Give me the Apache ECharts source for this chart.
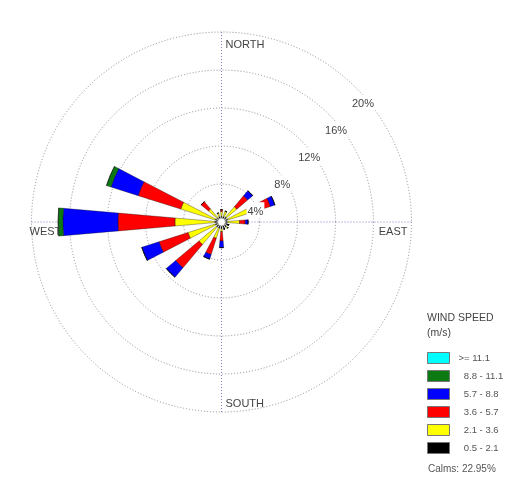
<!DOCTYPE html>
<html>
<head>
<meta charset="utf-8">
<script src="https://cdn.jsdelivr.net/npm/echarts@6/dist/echarts.min.js"></script>
<style>
  html, body { margin: 0; padding: 0; background: #fff; }
  #chart { width: 516px; height: 487px; }
</style>
</head>
<body>
<div id="chart"></div>
<script>
// Sixteen compass sectors, clockwise from north
const directions = ['N', 'NNE', 'NE', 'ENE', 'E', 'ESE', 'SE', 'SSE',
                    'S', 'SSW', 'SW', 'WSW', 'W', 'WNW', 'NW', 'NNW'];

// Wind speed classes (m/s), from calmest to strongest
const speedClasses = ['0.5 - 2.1', '2.1 - 3.6', '3.6 - 5.7', '5.7 - 8.8', '8.8 - 11.1', '>= 11.1'];
const classColors  = ['#000000', '#ffff00', '#ff0000', '#0000ff', '#0b7a12', '#00ffff'];

// Frequency of occurrence (%) per direction for each speed class
const freq05to21  = [0.6, 0.6, 0.7, 0.7, 0.6, 0.8, 0.7, 0.8, 0.7, 0.7, 0.7, 0.7, 0.7, 0.7, 0.6, 0.6];
const freq21to36  = [0.5, 0.6, 1.4, 2.5, 1.3, 0.0, 0.2, 0.0, 0.3, 1.1, 2.4, 3.0, 4.2, 3.8, 1.2, 0.4];
const freq36to57  = [0.2, 0.0, 1.5, 2.2, 0.6, 0.0, 0.0, 0.0, 1.0, 1.8, 3.2, 3.2, 6.0, 4.7, 1.0, 0.0];
const freq57to88  = [0.0, 0.0, 0.7, 0.5, 0.3, 0.0, 0.0, 0.0, 0.7, 0.5, 1.3, 1.9, 5.8, 3.0, 0.0, 0.0];
const freq88to111 = [0.0, 0.0, 0.0, 0.0, 0.0, 0.0, 0.0, 0.0, 0.0, 0.0, 0.0, 0.0, 0.5, 0.5, 0.0, 0.0];
const freqAbove111 = [0.0, 0.0, 0.0, 0.0, 0.0, 0.0, 0.0, 0.0, 0.0, 0.0, 0.0, 0.0, 0.0, 0.0, 0.0, 0.0];
const classFreqs = [freq05to21, freq21to36, freq36to57, freq57to88, freq88to111, freqAbove111];

// Ring scale (%) and compass captions
const ringStep = 4;
const ringMax = 20;
const compassNames = ['NORTH', 'EAST', 'SOUTH', 'WEST'];
const calmsPct = 22.95;

const FONT = 'Liberation Sans, Arial, sans-serif';
const CX = 221.5, CY = 222, R = 190;
const center = [CX, CY];

const chart = echarts.init(document.getElementById('chart'), null, { renderer: 'canvas' });

const hiddenAxis = { axisLine: { show: false }, axisTick: { show: false },
                     axisLabel: { show: false }, splitLine: { show: false } };

const series = speedClasses.map((name, i) => ({
  name: name,
  type: 'bar',
  coordinateSystem: 'polar',
  polarIndex: 0,
  stack: 'wind',
  barCategoryGap: '56%',
  data: classFreqs[i],
  itemStyle: { color: classColors[i], borderColor: 'rgba(0,0,0,0.55)', borderWidth: 0.6 },
  emphasis: { disabled: true },
  animation: false
}));

// Compass captions sit just inside the outer ring, beside the cross lines
const compassText = [
  { text: compassNames[0], x: CX + 4,     y: CY - R + 13, align: 'left' },
  { text: compassNames[1], x: CX + R - 4, y: CY + 10,     align: 'right' },
  { text: compassNames[2], x: CX + 4,     y: CY + R - 8,  align: 'left' },
  { text: compassNames[3], x: CX - R - 2, y: CY + 10,     align: 'left' }
].map(t => ({
  type: 'text', x: t.x, y: t.y, z: 20,
  style: { text: t.text, fontSize: 11, fontFamily: FONT, fill: '#444',
           align: t.align, verticalAlign: 'middle' }
}));

const option = {
  backgroundColor: '#ffffff',
  animation: false,
  polar: [
    { center: center, radius: R },   // bars
    { center: center, radius: R },   // rings and cross lines
    { center: center, radius: R }    // ring labels
  ],
  angleAxis: [
    Object.assign({ polarIndex: 0, type: 'category', data: directions,
                    startAngle: 90 + 360 / directions.length / 2, clockwise: true,
                    boundaryGap: true }, hiddenAxis),
    { polarIndex: 1, type: 'value', min: 0, max: 360, interval: 90, startAngle: 90,
      axisLine: { show: false }, axisTick: { show: false }, axisLabel: { show: false },
      splitLine: { show: true, lineStyle: { color: '#7c7cc4', type: [1, 2], width: 1 } } },
    Object.assign({ polarIndex: 2, type: 'value', min: 0, max: 360, startAngle: 45 }, hiddenAxis)
  ],
  radiusAxis: [
    Object.assign({ polarIndex: 0, type: 'value', min: 0, max: ringMax }, hiddenAxis),
    { polarIndex: 1, type: 'value', min: 0, max: ringMax, interval: ringStep,
      axisLine: { show: false }, axisTick: { show: false }, axisLabel: { show: false },
      splitLine: { show: true, lineStyle: { color: '#8c8c9c', type: [1, 2], width: 1 } } },
    { polarIndex: 2, type: 'value', min: 0, max: ringMax, interval: ringStep, z: 10,
      axisLine: { show: false }, axisTick: { show: false }, splitLine: { show: false },
      axisLabel: { show: true, margin: -10, align: 'center', verticalAlign: 'top',
                   padding: [4, 1, 1, 1],
                   color: '#444', fontSize: 11, fontFamily: FONT,
                   backgroundColor: '#fff',
                   formatter: v => (v === 0 ? '' : v + '%') } }
  ],
  title: [
    { text: 'WIND SPEED\n(m/s)', left: 427, top: 311, padding: 0,
      textStyle: { fontSize: 10.5, fontWeight: 'normal', color: '#444', fontFamily: FONT, lineHeight: 15 } },
    { text: 'Calms: ' + calmsPct.toFixed(2) + '%', left: 428, top: 464, padding: 0,
      textStyle: { fontSize: 10, fontWeight: 'normal', color: '#555', fontFamily: FONT } }
  ],
  legend: {
    data: speedClasses.slice().reverse(),
    orient: 'vertical', left: 427, top: 352, padding: 0,
    itemWidth: 22, itemHeight: 11, itemGap: 6, icon: 'rect',
    selectedMode: false,
    itemStyle: { borderColor: '#777', borderWidth: 1 },
    formatter: n => (n.indexOf('>=') === 0 ? n : '  ' + n),
    textStyle: { fontSize: 9.5, color: '#555', fontFamily: FONT, padding: [0, 0, 0, 4] }
  },
  graphic: compassText.concat([
    { type: 'circle', shape: { cx: CX, cy: CY, r: 4 }, z: 30,
      style: { fill: '#fff', stroke: '#999', lineWidth: 1 } }
  ]),
  series: series
};

chart.setOption(option);
</script>
</body>
</html>
